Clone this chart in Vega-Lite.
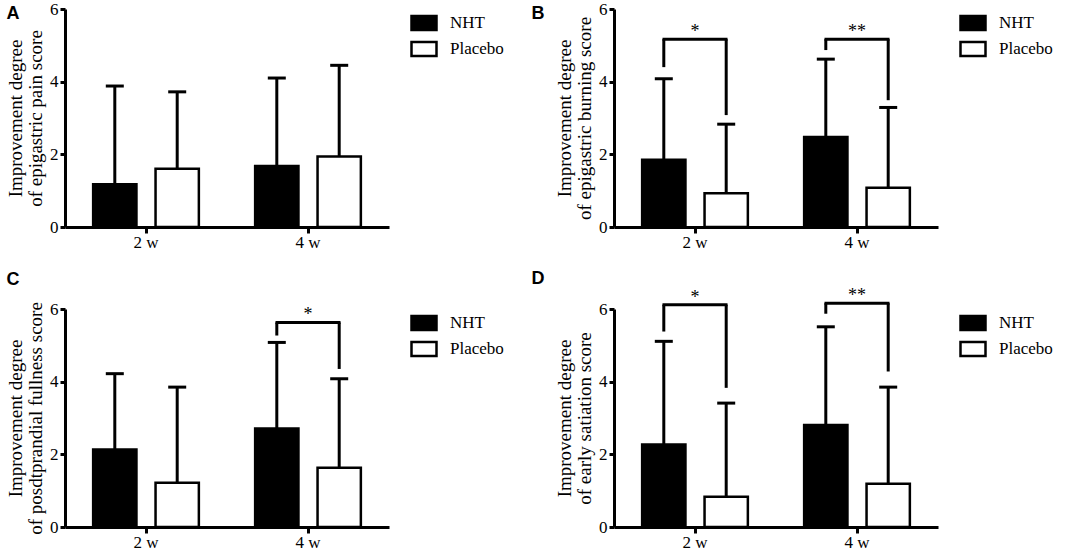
{
  "$schema": "https://vega.github.io/schema/vega-lite/v6.json",
  "padding": {"left": 6, "top": 0, "right": 0, "bottom": 0},
  "autosize": {"type": "pad"},
  "datasets": {
    "bars": [
      {"panel": "A", "time": "2 w", "group": "NHT", "mean": 1.18, "upper": 3.88},
      {"panel": "A", "time": "2 w", "group": "Placebo", "mean": 1.60, "upper": 3.72},
      {"panel": "A", "time": "4 w", "group": "NHT", "mean": 1.68, "upper": 4.10},
      {"panel": "A", "time": "4 w", "group": "Placebo", "mean": 1.94, "upper": 4.45},
      {"panel": "B", "time": "2 w", "group": "NHT", "mean": 1.85, "upper": 4.08},
      {"panel": "B", "time": "2 w", "group": "Placebo", "mean": 0.93, "upper": 2.83},
      {"panel": "B", "time": "4 w", "group": "NHT", "mean": 2.48, "upper": 4.62},
      {"panel": "B", "time": "4 w", "group": "Placebo", "mean": 1.08, "upper": 3.29},
      {"panel": "C", "time": "2 w", "group": "NHT", "mean": 2.13, "upper": 4.22},
      {"panel": "C", "time": "2 w", "group": "Placebo", "mean": 1.22, "upper": 3.85},
      {"panel": "C", "time": "4 w", "group": "NHT", "mean": 2.71, "upper": 5.08},
      {"panel": "C", "time": "4 w", "group": "Placebo", "mean": 1.63, "upper": 4.08},
      {"panel": "D", "time": "2 w", "group": "NHT", "mean": 2.27, "upper": 5.11},
      {"panel": "D", "time": "2 w", "group": "Placebo", "mean": 0.83, "upper": 3.41},
      {"panel": "D", "time": "4 w", "group": "NHT", "mean": 2.81, "upper": 5.51},
      {"panel": "D", "time": "4 w", "group": "Placebo", "mean": 1.19, "upper": 3.85}
    ],
    "brackets": [
      {"panel": "B", "time": "2 w", "group": "NHT", "low": 4.40, "top": 5.17},
      {"panel": "B", "time": "2 w", "group": "Placebo", "low": 3.08, "top": 5.17},
      {"panel": "B", "time": "4 w", "group": "NHT", "low": 4.87, "top": 5.17},
      {"panel": "B", "time": "4 w", "group": "Placebo", "low": 3.49, "top": 5.17},
      {"panel": "C", "time": "4 w", "group": "NHT", "low": 5.27, "top": 5.63},
      {"panel": "C", "time": "4 w", "group": "Placebo", "low": 4.35, "top": 5.63},
      {"panel": "D", "time": "2 w", "group": "NHT", "low": 5.38, "top": 6.12},
      {"panel": "D", "time": "2 w", "group": "Placebo", "low": 3.83, "top": 6.12},
      {"panel": "D", "time": "4 w", "group": "NHT", "low": 5.87, "top": 6.16},
      {"panel": "D", "time": "4 w", "group": "Placebo", "low": 4.28, "top": 6.16}
    ],
    "stars": [
      {"panel": "B", "time": "2 w", "top": 5.17, "label": "*"},
      {"panel": "B", "time": "4 w", "top": 5.17, "label": "**"},
      {"panel": "C", "time": "4 w", "top": 5.63, "label": "*"},
      {"panel": "D", "time": "2 w", "top": 6.12, "label": "*"},
      {"panel": "D", "time": "4 w", "top": 6.16, "label": "**"}
    ]
  },
  "columns": 2,
  "spacing": {"row": 82, "column": 225},
  "bounds": "flush",
  "resolve": {"scale": {"fill": "independent"}, "legend": {"fill": "independent"}},
  "concat": [
    {
      "width": 324, "height": 218,
      "title": {"text": "A", "offset": -23},
      "encoding": {"x": {"field": "time", "type": "nominal", "scale": {"paddingInner": 0, "paddingOuter": 0}, "axis": {"title": null, "labelAngle": 0, "tickSize": 6, "labelPadding": 1}}},
      "layer": [
        {"data": {"name": "bars"}, "transform": [{"filter": "datum.panel === 'A'"}],
         "mark": {"type": "bar", "stroke": "black", "strokeWidth": 2.5},
         "encoding": {
           "xOffset": {"field": "group", "type": "nominal", "scale": {"paddingInner": 0.306, "paddingOuter": 0.451}},
           "y": {"field": "mean", "type": "quantitative", "scale": {"domain": [0, 6]}, "axis": {"title": ["Improvement degree", "of epigastric pain score"], "values": [0, 2, 4, 6]}},
           "fill": {"field": "group", "type": "nominal", "scale": {"domain": ["NHT", "Placebo"], "range": ["black", "white"]}}
         }},
        {"data": {"name": "bars"}, "transform": [{"filter": "datum.panel === 'A'"}],
         "mark": {"type": "rule", "strokeWidth": 3, "color": "black"},
         "encoding": {"xOffset": {"field": "group", "type": "nominal"}, "y": {"field": "mean", "type": "quantitative"}, "y2": {"field": "upper"}}},
        {"data": {"name": "bars"}, "transform": [{"filter": "datum.panel === 'A'"}],
         "mark": {"type": "tick", "size": 18, "thickness": 3, "color": "black", "opacity": 1},
         "encoding": {"xOffset": {"field": "group", "type": "nominal"}, "y": {"field": "upper", "type": "quantitative"}}}
      ]
    },
    {
      "width": 324, "height": 218,
      "title": {"text": "B", "offset": -23, "dx": -24},
      "encoding": {"x": {"field": "time", "type": "nominal", "scale": {"paddingInner": 0, "paddingOuter": 0}, "axis": {"title": null, "labelAngle": 0, "tickSize": 6, "labelPadding": 1}}},
      "layer": [
        {"data": {"name": "bars"}, "transform": [{"filter": "datum.panel === 'B'"}],
         "mark": {"type": "bar", "stroke": "black", "strokeWidth": 2.5},
         "encoding": {
           "xOffset": {"field": "group", "type": "nominal", "scale": {"paddingInner": 0.306, "paddingOuter": 0.451}},
           "y": {"field": "mean", "type": "quantitative", "scale": {"domain": [0, 6]}, "axis": {"title": ["Improvement degree", "of epigastric burning score"], "values": [0, 2, 4, 6]}},
           "fill": {"field": "group", "type": "nominal", "scale": {"domain": ["NHT", "Placebo"], "range": ["black", "white"]}}
         }},
        {"data": {"name": "bars"}, "transform": [{"filter": "datum.panel === 'B'"}],
         "mark": {"type": "rule", "strokeWidth": 3, "color": "black"},
         "encoding": {"xOffset": {"field": "group", "type": "nominal"}, "y": {"field": "mean", "type": "quantitative"}, "y2": {"field": "upper"}}},
        {"data": {"name": "bars"}, "transform": [{"filter": "datum.panel === 'B'"}],
         "mark": {"type": "tick", "size": 18, "thickness": 3, "color": "black", "opacity": 1},
         "encoding": {"xOffset": {"field": "group", "type": "nominal"}, "y": {"field": "upper", "type": "quantitative"}}},
        {"data": {"name": "brackets"}, "transform": [{"filter": "datum.panel === 'B'"}],
         "mark": {"type": "rule", "strokeWidth": 3, "color": "black"},
         "encoding": {"xOffset": {"field": "group", "type": "nominal"}, "y": {"field": "low", "type": "quantitative"}, "y2": {"field": "top"}}},
        {"data": {"name": "brackets"}, "transform": [{"filter": "datum.panel === 'B' && datum.group === 'NHT'"}],
         "mark": {"type": "tick", "size": 65, "thickness": 3, "color": "black", "opacity": 1},
         "encoding": {"y": {"field": "top", "type": "quantitative"}}},
        {"data": {"name": "stars"}, "transform": [{"filter": "datum.panel === 'B'"}],
         "mark": {"type": "text", "font": "Liberation Serif", "fontSize": 18, "baseline": "alphabetic", "dy": -2, "color": "black"},
         "encoding": {"y": {"field": "top", "type": "quantitative"}, "text": {"field": "label"}}}
      ]
    },
    {
      "width": 324, "height": 218,
      "title": {"text": "C", "offset": 11},
      "encoding": {"x": {"field": "time", "type": "nominal", "scale": {"paddingInner": 0, "paddingOuter": 0}, "axis": {"title": null, "labelAngle": 0, "tickSize": 6, "labelPadding": 1}}},
      "layer": [
        {"data": {"name": "bars"}, "transform": [{"filter": "datum.panel === 'C'"}],
         "mark": {"type": "bar", "stroke": "black", "strokeWidth": 2.5},
         "encoding": {
           "xOffset": {"field": "group", "type": "nominal", "scale": {"paddingInner": 0.306, "paddingOuter": 0.451}},
           "y": {"field": "mean", "type": "quantitative", "scale": {"domain": [0, 6]}, "axis": {"title": ["Improvement degree", "of posdtprandial fullness score"], "values": [0, 2, 4, 6]}},
           "fill": {"field": "group", "type": "nominal", "scale": {"domain": ["NHT", "Placebo"], "range": ["black", "white"]}}
         }},
        {"data": {"name": "bars"}, "transform": [{"filter": "datum.panel === 'C'"}],
         "mark": {"type": "rule", "strokeWidth": 3, "color": "black"},
         "encoding": {"xOffset": {"field": "group", "type": "nominal"}, "y": {"field": "mean", "type": "quantitative"}, "y2": {"field": "upper"}}},
        {"data": {"name": "bars"}, "transform": [{"filter": "datum.panel === 'C'"}],
         "mark": {"type": "tick", "size": 18, "thickness": 3, "color": "black", "opacity": 1},
         "encoding": {"xOffset": {"field": "group", "type": "nominal"}, "y": {"field": "upper", "type": "quantitative"}}},
        {"data": {"name": "brackets"}, "transform": [{"filter": "datum.panel === 'C'"}],
         "mark": {"type": "rule", "strokeWidth": 3, "color": "black"},
         "encoding": {"xOffset": {"field": "group", "type": "nominal"}, "y": {"field": "low", "type": "quantitative"}, "y2": {"field": "top"}}},
        {"data": {"name": "brackets"}, "transform": [{"filter": "datum.panel === 'C' && datum.group === 'NHT'"}],
         "mark": {"type": "tick", "size": 65, "thickness": 3, "color": "black", "opacity": 1},
         "encoding": {"y": {"field": "top", "type": "quantitative"}}},
        {"data": {"name": "stars"}, "transform": [{"filter": "datum.panel === 'C'"}],
         "mark": {"type": "text", "font": "Liberation Serif", "fontSize": 18, "baseline": "alphabetic", "dy": -2, "color": "black"},
         "encoding": {"y": {"field": "top", "type": "quantitative"}, "text": {"field": "label"}}}
      ]
    },
    {
      "width": 324, "height": 218,
      "title": {"text": "D", "offset": -1, "dx": -24},
      "encoding": {"x": {"field": "time", "type": "nominal", "scale": {"paddingInner": 0, "paddingOuter": 0}, "axis": {"title": null, "labelAngle": 0, "tickSize": 6, "labelPadding": 1}}},
      "layer": [
        {"data": {"name": "bars"}, "transform": [{"filter": "datum.panel === 'D'"}],
         "mark": {"type": "bar", "stroke": "black", "strokeWidth": 2.5},
         "encoding": {
           "xOffset": {"field": "group", "type": "nominal", "scale": {"paddingInner": 0.306, "paddingOuter": 0.451}},
           "y": {"field": "mean", "type": "quantitative", "scale": {"domain": [0, 6]}, "axis": {"title": ["Improvement degree", "of early satiation score"], "values": [0, 2, 4, 6]}},
           "fill": {"field": "group", "type": "nominal", "scale": {"domain": ["NHT", "Placebo"], "range": ["black", "white"]}}
         }},
        {"data": {"name": "bars"}, "transform": [{"filter": "datum.panel === 'D'"}],
         "mark": {"type": "rule", "strokeWidth": 3, "color": "black"},
         "encoding": {"xOffset": {"field": "group", "type": "nominal"}, "y": {"field": "mean", "type": "quantitative"}, "y2": {"field": "upper"}}},
        {"data": {"name": "bars"}, "transform": [{"filter": "datum.panel === 'D'"}],
         "mark": {"type": "tick", "size": 18, "thickness": 3, "color": "black", "opacity": 1},
         "encoding": {"xOffset": {"field": "group", "type": "nominal"}, "y": {"field": "upper", "type": "quantitative"}}},
        {"data": {"name": "brackets"}, "transform": [{"filter": "datum.panel === 'D'"}],
         "mark": {"type": "rule", "strokeWidth": 3, "color": "black"},
         "encoding": {"xOffset": {"field": "group", "type": "nominal"}, "y": {"field": "low", "type": "quantitative"}, "y2": {"field": "top"}}},
        {"data": {"name": "brackets"}, "transform": [{"filter": "datum.panel === 'D' && datum.group === 'NHT'"}],
         "mark": {"type": "tick", "size": 65, "thickness": 3, "color": "black", "opacity": 1},
         "encoding": {"y": {"field": "top", "type": "quantitative"}}},
        {"data": {"name": "stars"}, "transform": [{"filter": "datum.panel === 'D'"}],
         "mark": {"type": "text", "font": "Liberation Serif", "fontSize": 18, "baseline": "alphabetic", "dy": -2, "color": "black"},
         "encoding": {"y": {"field": "top", "type": "quantitative"}, "text": {"field": "label"}}}
      ]
    }
  ],
  "config": {
    "view": {"stroke": null},
    "title": {"font": "Liberation Sans", "fontSize": 18, "fontWeight": "bold", "color": "black", "anchor": "start", "frame": "bounds"},
    "axis": {"grid": false, "domainColor": "black", "domainWidth": 3, "tickColor": "black", "tickWidth": 3, "labelFont": "Liberation Serif", "labelFontSize": 17, "labelColor": "black", "titleFont": "Liberation Serif", "titleFontSize": 19, "titleFontWeight": "normal", "titleColor": "black", "titleLineHeight": 20},
    "axisY": {"tickSize": 5, "labelPadding": 2, "titlePadding": 4},
    "legend": {"title": null, "orient": "right", "offset": 21, "padding": 0, "symbolType": "M-1,-0.56H1V0.56H-1Z", "symbolSize": 625, "symbolStrokeWidth": 2.5, "symbolStrokeColor": "black", "labelFont": "Liberation Serif", "labelFontSize": 17, "labelColor": "black", "labelOffset": 12, "rowPadding": 0}
  }
}
